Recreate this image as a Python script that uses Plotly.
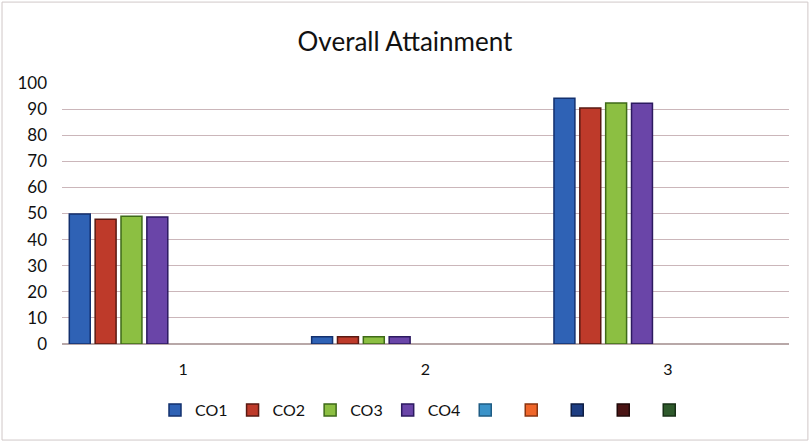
import plotly.graph_objects as go

categories = ["1", "2", "3"]
series_names = ["CO1", "CO2", "CO3", "CO4", "", " ", "  ", "   ", "    "]
co1 = [49.8, 2.8, 94.2]
co2 = [47.8, 2.8, 90.4]
co3 = [48.9, 2.8, 92.3]
co4 = [48.7, 2.8, 92.2]
empty = [None, None, None]
series_values = [co1, co2, co3, co4, empty, empty, empty, empty, empty]
colors = ["#2F62B5", "#BE3A2A", "#8CBF42", "#6A45A8", "#3B93C9", "#F0662A", "#1D3D82", "#4A1414", "#2F5A2C"]
edges = ["#13306E", "#5A1A12", "#3E6A18", "#2C1A60", "#1E5C84", "#8A3510", "#0E1E44", "#200808", "#173016"]
yticks = [0, 10, 20, 30, 40, 50, 60, 70, 80, 90, 100]

fig = go.Figure()
for name, vals, c, e in zip(series_names, series_values, colors, edges):
    kw = {}
    if not name.strip():
        kw["legendwidth"] = 1
    fig.add_trace(go.Bar(
        x=categories, y=vals, name=name,
        marker=dict(color=c, line=dict(color=e, width=1.5)),
        showlegend=True, **kw,
    ))

fig.update_layout(
    width=810, height=443,
    barmode="group", bargap=0.04, bargroupgap=0.19,
    paper_bgcolor="white", plot_bgcolor="white",
    margin=dict(l=62, r=21, t=83, b=99),
    title=dict(text="Overall Attainment", x=0.5, xanchor="center", y=0.905, yanchor="middle",
               font=dict(family="Lato, Open Sans, sans-serif", size=26, color="#111111")),
    font=dict(family="Lato, Open Sans, sans-serif", size=16, color="#111111"),
    legend=dict(orientation="h", x=0.5, xanchor="center", y=-0.253, yanchor="middle",
                font=dict(size=16), itemwidth=30, tracegroupgap=0),
    shapes=[dict(type="rect", xref="paper", yref="paper", x0=-0.0825, x1=1.026, y0=-0.368, y1=1.31,
                 line=dict(color="#D0C8C8", width=1))],
)
fig.update_yaxes(range=[0, 100], tickvals=yticks, showgrid=True, gridcolor="#CBB6BA", gridwidth=1,
                 zeroline=True, zerolinecolor="#B8A8A8", ticks="", ticklabelstandoff=14,
                 tickfont=dict(size=17))
fig.update_xaxes(type="category", showgrid=False, ticks="", ticklabelstandoff=14,
                 showline=False, tickfont=dict(size=16))

fig.write_html("out.html", config={"displayModeBar": False},
               post_script="document.body.style.margin='0';")
